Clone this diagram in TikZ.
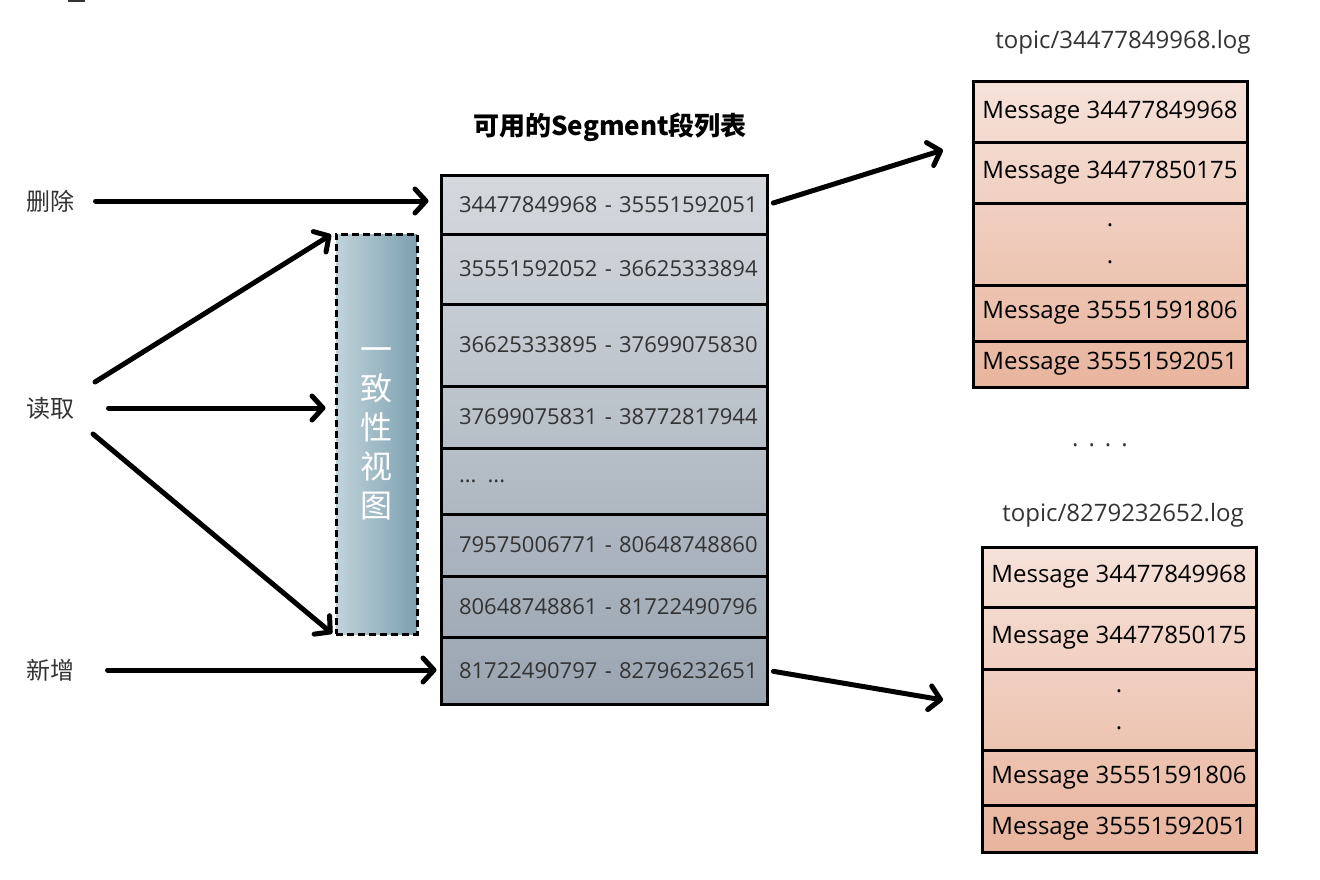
\documentclass[tikz,border=0pt]{standalone}
\usepackage{fontspec}
\setmainfont{Open Sans}
\newfontfamily\cjk{Noto Sans CJK SC}
\usetikzlibrary{arrows.meta}

\definecolor{segtop}{RGB}{212,217,222}
\definecolor{segbot}{RGB}{154,165,177}
\definecolor{viewl}{RGB}{192,211,219}
\definecolor{viewr}{RGB}{124,160,175}
\definecolor{msgtop}{RGB}{246,226,217}
\definecolor{msgbot}{RGB}{232,180,157}
\definecolor{ink}{RGB}{51,51,51}

\tikzset{
  seg/.style={draw=black, line width=3pt, text width=290pt, align=left,
    inner xsep=18pt, inner ysep=0pt, text=ink, font=\fontsize{22}{26}\selectfont},
  msg/.style={draw=black, line width=3pt, minimum width=274pt, align=center,
    inner sep=0pt, text=black, font=\fontsize{24}{28}\selectfont},
  lbl/.style={font=\cjk\fontsize{24}{28}\selectfont, text=ink},
  file/.style={font=\fontsize{24}{28}\selectfont, text=ink},
  arr/.style={line width=5pt, line cap=round,
    -{Straight Barb[length=11pt,width=24pt,round]}},
}

\begin{document}
\begin{tikzpicture}[x=1pt,y=-1pt]
\useasboundingbox (0,0) rectangle (1320,880);
\fill[ink] (68,0) rectangle (85,2);

% segment list
\node[font=\cjk\bfseries\fontsize{26}{30}\selectfont] (title) at (610,127) {可用的Segment段列表};
\shade[top color=segtop, bottom color=segbot] (441,175) rectangle (767,704);
\node[seg, minimum height=59pt] (s1) at (604,204.5) {\mbox{34477849968 - 35551592051}};
\node[seg, minimum height=70pt] (s2) at (604,269) {\mbox{35551592052 - 36625333894}};
\node[seg, minimum height=82pt] (s3) at (604,345) {\mbox{36625333895 - 37699075830}};
\node[seg, minimum height=62pt] (s4) at (604,417) {\mbox{37699075831 - 38772817944}};
\node[seg, minimum height=66pt] (s5) at (604,481) {\mbox{... ...}};
\node[seg, minimum height=62pt] (s6) at (604,545) {\mbox{79575006771 - 80648748860}};
\node[seg, minimum height=61pt] (s7) at (604,606.5) {\mbox{80648748861 - 81722490796}};
\node[seg, minimum height=67pt] (s8) at (604,670.5) {\mbox{81722490797 - 82796232651}};

% consistent view
\node[draw=black, dash pattern=on 7pt off 4pt, line width=3pt,
  minimum width=81pt, minimum height=400pt, left color=viewl, right color=viewr,
  text=white, align=center, font=\cjk\fontsize{32}{39}\selectfont]
  (view) at (376.5,434) {一\\致\\性\\视\\图};

% operations
\node[lbl] (del) at (51,201) {删除};
\node[lbl] (rd) at (51,408) {读取};
\node[lbl] (add) at (51,670) {新增};

\coordinate (ru) at (95,382);
\coordinate (rl) at (93,434);
\draw[arr, shorten <=17pt, shorten >=11pt] (del.east) -- (del.east -| s1.west);
\draw[arr, shorten >=4pt] (ru) -- (view.north west);
\draw[arr, shorten <=30pt, shorten >=9pt] (rd.east) -- (rd.east -| view.west);
\draw[arr, shorten >=3pt] (rl) -- (view.south west);
\draw[arr, shorten <=29pt, shorten >=3pt] (add.east) -- (add.east -| s8.west);

% log files
\node[file] (f1) at (1123,42) {topic/34477849968.log};
\shade[top color=msgtop, bottom color=msgbot] (973,82) rectangle (1247,387);
\node[msg, minimum height=61pt] (m1) at (1110,112.5) {Message 34477849968};
\node[msg, minimum height=60pt] (m2) at (1110,173) {Message 34477850175};
\node[msg, minimum height=82pt, font=\fontsize{24}{37}\selectfont] (m3) at (1110,244) {.\\.};
\node[msg, minimum height=56pt] (m4) at (1110,313) {Message 35551591806};
\node[msg, minimum height=46pt] (m5) at (1110,364) {Message 35551592051};

\node[file] (gap) at (1100,445) {.\hspace{10pt}.\hspace{10pt}.\hspace{10pt}.};

\node[file] (f2) at (1123,515) {topic/8279232652.log};
\shade[top color=msgtop, bottom color=msgbot] (982,547) rectangle (1256,852);
\node[msg, minimum height=60pt] (n1) at (1119,577) {Message 34477849968};
\node[msg, minimum height=62pt] (n2) at (1119,638) {Message 34477850175};
\node[msg, minimum height=81pt, font=\fontsize{24}{37}\selectfont] (n3) at (1119,709.5) {.\\.};
\node[msg, minimum height=55pt] (n4) at (1119,777.5) {Message 35551591806};
\node[msg, minimum height=47pt] (n5) at (1119,828.5) {Message 35551592051};

\coordinate (t1) at (943,150);
\coordinate (t2) at (943,700);
\draw[arr, shorten <=5pt] (s1.east) -- (t1);
\draw[arr, shorten <=5pt] (s8.east) -- (t2);
\end{tikzpicture}
\end{document}
